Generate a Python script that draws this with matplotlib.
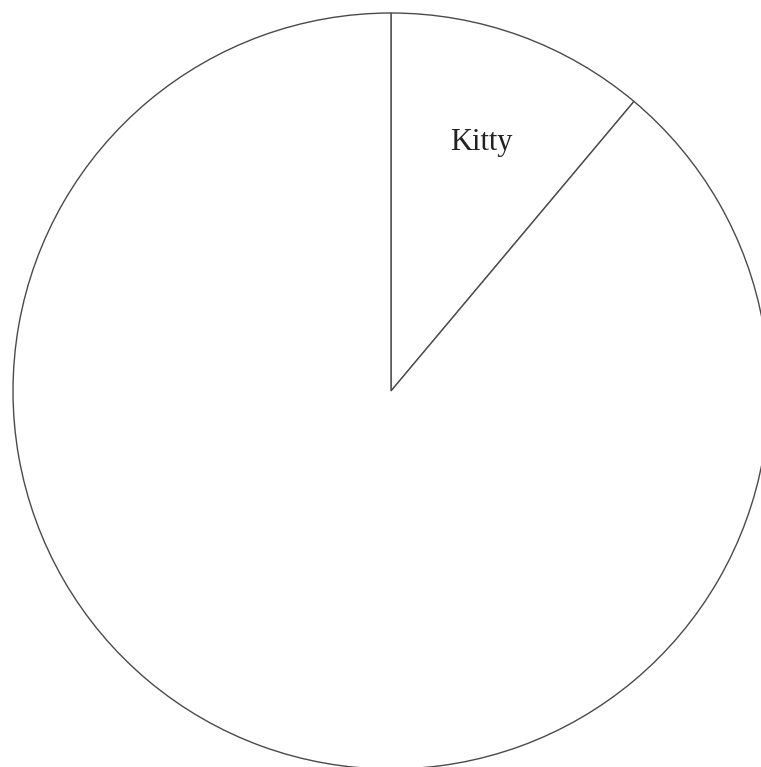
import matplotlib
matplotlib.use("Agg")
import matplotlib.pyplot as plt

labels = ["Kitty", ""]
values = [1, 8]

fig = plt.figure(figsize=(7.61, 7.67), dpi=100)
ax = fig.add_axes([13/761, -2/767, 756/761, 756/767])
wedges, texts = ax.pie(values, labels=labels, startangle=90, counterclock=False,
       colors=["white", "white"], labeldistance=0.70,
       wedgeprops=dict(edgecolor="#4a4a4a", linewidth=1.0),
       textprops=dict(family="Liberation Serif", fontsize=22, color="#222222"))
for t in texts:
    t.set_horizontalalignment("center")
    t.set_verticalalignment("center")
ax.set_xlim(-1, 1)
ax.set_ylim(-1, 1)
ax.set_aspect("equal")
ax.axis("off")
fig.savefig("out.png", dpi=100, facecolor="white")
